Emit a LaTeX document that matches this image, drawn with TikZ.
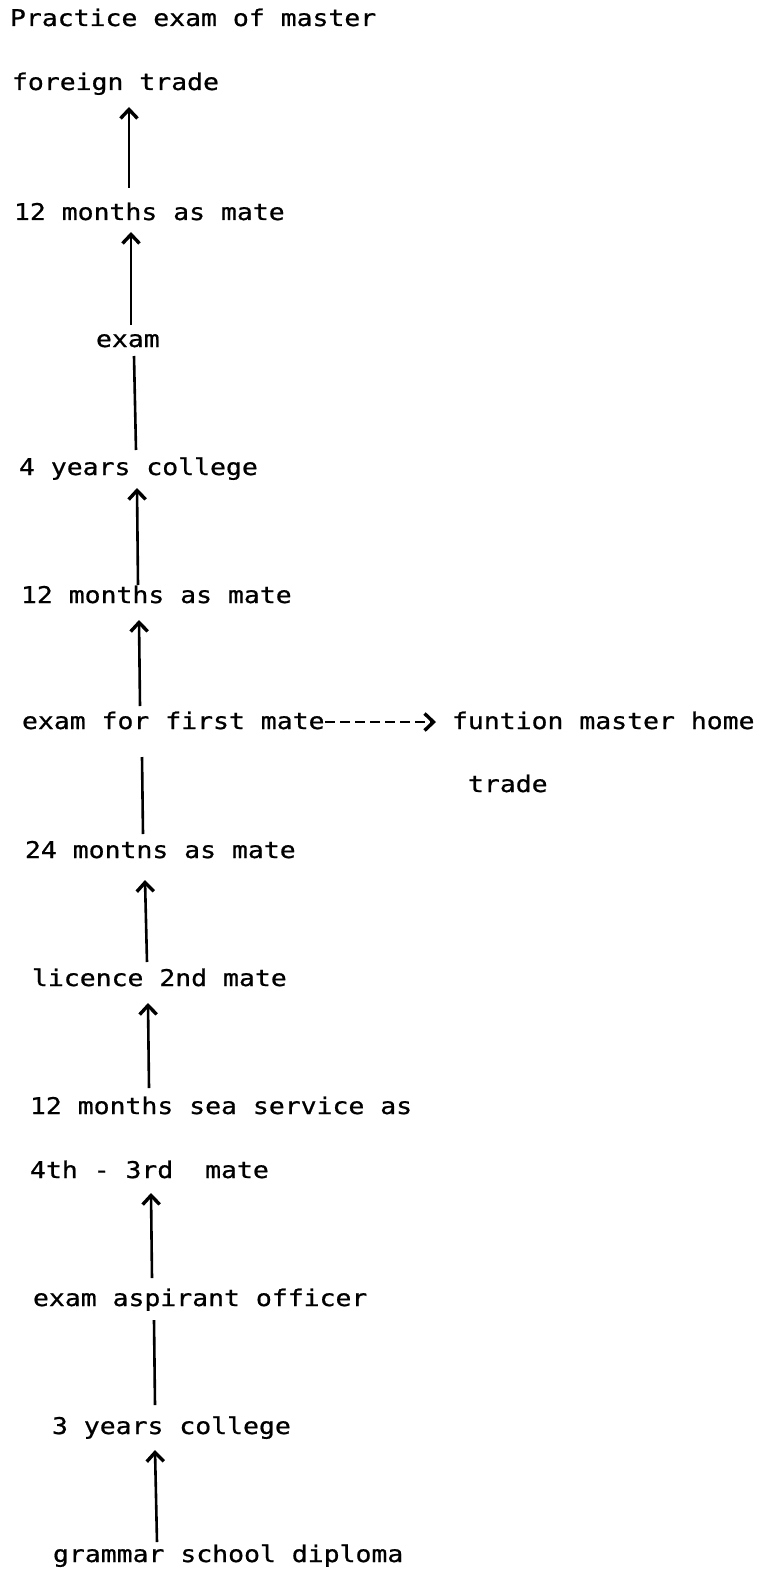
\documentclass[tikz,border=0pt]{standalone}
\usepackage{fontspec}
\setmonofont[FakeStretch=1.15,FakeBold=0.8]{DejaVu Sans Mono}
\usetikzlibrary{arrows.meta}
\begin{document}
\begin{tikzpicture}[x=1pt,y=-1pt,
  txt/.style={anchor=base west,inner sep=0pt,outer sep=0pt,font=\ttfamily\fontsize{23}{26}\selectfont},
  tipc/.tip={Straight Barb[length=9pt,width=17pt,line width=3.4pt]},
  arr/.style={line width=2.6pt,-tipc},
  ln/.style={line width=2.6pt},
  darr/.style={line width=2.6pt,dash pattern=on 10pt off 5pt,-tipc}]
\useasboundingbox (0,0) rectangle (767,1570);
\node[txt] (p)   at (10,26)   {Practice exam of master};
\node[txt] (ft)  at (12,90)   {foreign trade};
\node[txt] (m1)  at (14,220)  {12 months as mate};
\node[txt] (ex)  at (96,347)  {exam};
\node[txt] (y4)  at (19,475)  {4 years college};
\node[txt] (m2)  at (21,603)  {12 months as mate};
\node[txt] (ef)  at (22,729)  {exam for first mate};
\node[txt] (fm)  at (452,729) {funtion master home};
\node[txt] (tr)  at (468,792) {trade};
\node[txt] (m24) at (25,858)  {24 montns as mate};
\node[txt] (lic) at (32,986)  {licence 2nd mate};
\node[txt] (sea) at (30,1114) {12 months sea service as};
\node[txt] (th)  at (30,1178) {4th - 3rd\ \ mate};
\node[txt] (asp) at (33,1306) {exam aspirant officer};
\node[txt] (y3)  at (52,1434) {3 years college};
\node[txt] (gs)  at (53,1562) {grammar school diploma};
% connectors
\draw[arr] ([shift={(115,-32)}]m1.base west) -- ([shift={(117,17)}]ft.base west);
\draw[arr] ([shift={(35,-22)}]ex.base west) -- ([shift={(117,12)}]m1.base west);
\draw[ln]  ([shift={(117,-25)}]y4.base west) -- ([shift={(38,9)}]ex.base west);
\draw[arr] ([shift={(117,-18)}]m2.base west) -- ([shift={(118,13)}]y4.base west);
\draw[arr] ([shift={(118,-23)}]ef.base west) -- ([shift={(118,17)}]m2.base west);
\draw[ln]  ([shift={(118,-24)}]m24.base west) -- ([shift={(120,28)}]ef.base west);
\draw[arr] ([shift={(115,-24)}]lic.base west) -- ([shift={(120,22)}]m24.base west);
\draw[arr] ([shift={(119,-26)}]sea.base west) -- ([shift={(116,17)}]lic.base west);
\draw[arr] ([shift={(119,-28)}]asp.base west) -- ([shift={(121,15)}]th.base west);
\draw[ln]  ([shift={(103,-29)}]y3.base west) -- ([shift={(121,14)}]asp.base west);
\draw[arr] ([shift={(104,-20)}]gs.base west) -- ([shift={(103,16)}]y3.base west);
\draw[darr] ([shift={(303,-7)}]ef.base west) -- ([shift={(-16,-7)}]fm.base west);
\end{tikzpicture}
\end{document}
